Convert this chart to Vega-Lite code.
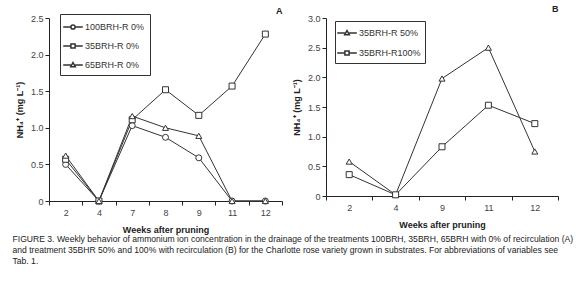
{
  "$schema": "https://vega.github.io/schema/vega-lite/v6.json",
  "background": "white",
  "padding": {"left": 12, "top": 5, "right": 2, "bottom": 2},
  "datasets": {
    "A": [
      {"week": 2, "series": "100BRH-R 0%", "value": 0.50},
      {"week": 4, "series": "100BRH-R 0%", "value": 0.0},
      {"week": 7, "series": "100BRH-R 0%", "value": 1.03},
      {"week": 8, "series": "100BRH-R 0%", "value": 0.87},
      {"week": 9, "series": "100BRH-R 0%", "value": 0.59},
      {"week": 11, "series": "100BRH-R 0%", "value": 0.0},
      {"week": 12, "series": "100BRH-R 0%", "value": 0.0},
      {"week": 2, "series": "35BRH-R 0%", "value": 0.57},
      {"week": 4, "series": "35BRH-R 0%", "value": 0.0},
      {"week": 7, "series": "35BRH-R 0%", "value": 1.11},
      {"week": 8, "series": "35BRH-R 0%", "value": 1.52},
      {"week": 9, "series": "35BRH-R 0%", "value": 1.17},
      {"week": 11, "series": "35BRH-R 0%", "value": 1.57},
      {"week": 12, "series": "35BRH-R 0%", "value": 2.28},
      {"week": 2, "series": "65BRH-R 0%", "value": 0.62},
      {"week": 4, "series": "65BRH-R 0%", "value": 0.0},
      {"week": 7, "series": "65BRH-R 0%", "value": 1.16},
      {"week": 8, "series": "65BRH-R 0%", "value": 1.0},
      {"week": 9, "series": "65BRH-R 0%", "value": 0.89},
      {"week": 11, "series": "65BRH-R 0%", "value": 0.0},
      {"week": 12, "series": "65BRH-R 0%", "value": 0.0}
    ],
    "B": [
      {"week": 2, "series": "35BRH-R 50%", "value": 0.58},
      {"week": 4, "series": "35BRH-R 50%", "value": 0.02},
      {"week": 9, "series": "35BRH-R 50%", "value": 1.98},
      {"week": 11, "series": "35BRH-R 50%", "value": 2.50},
      {"week": 12, "series": "35BRH-R 50%", "value": 0.75},
      {"week": 2, "series": "35BRH-R100%", "value": 0.36},
      {"week": 4, "series": "35BRH-R100%", "value": 0.02},
      {"week": 9, "series": "35BRH-R100%", "value": 0.83},
      {"week": 11, "series": "35BRH-R100%", "value": 1.53},
      {"week": 12, "series": "35BRH-R100%", "value": 1.22}
    ]
  },
  "title": {
    "text": [
      "FIGURE 3. Weekly behavior of ammonium ion concentration in the drainage of the treatments 100BRH, 35BRH, 65BRH with 0% of recirculation (A)",
      "and treatment 35BHR 50% and 100% with recirculation (B) for the Charlotte rose variety grown in substrates. For abbreviations of variables see",
      "Tab. 1."
    ],
    "orient": "bottom",
    "anchor": "start",
    "frame": "bounds",
    "font": "Liberation Sans, sans-serif",
    "fontSize": 8.6,
    "fontWeight": "normal",
    "color": "#222",
    "lineHeight": 11,
    "offset": 1,
    "dx": -3
  },
  "spacing": 9,
  "hconcat": [
    {
      "width": 233,
      "height": 183,
      "title": {"text": "A", "anchor": "end", "fontSize": 9, "fontWeight": "bold", "offset": 1, "dy": 3, "font": "Liberation Sans, sans-serif", "color": "#222"},
      "data": {"name": "A"},
      "encoding": {
        "x": {"field": "week", "type": "ordinal", "bandPosition": 0.5,
              "scale": {"type": "band", "paddingInner": 0, "paddingOuter": 0},
              "axis": {"title": "Weeks after pruning", "labelAngle": 0, "tickBand": "extent"}},
        "y": {"field": "value", "type": "quantitative",
              "scale": {"domain": [0, 2.5], "nice": false},
              "axis": {"title": "NH₄⁺ (mg L⁻¹)", "values": [0, 0.5, 1, 1.5, 2, 2.5],
                       "labelExpr": "datum.value == 0 ? '0' : format(datum.value, '.1f')"}}
      },
      "layer": [
        {"mark": {"type": "line", "color": "#333", "strokeWidth": 1},
         "encoding": {"detail": {"field": "series"}}},
        {"mark": {"type": "point", "filled": true, "fill": "white", "stroke": "#333", "strokeWidth": 1, "opacity": 1, "size": 36},
         "encoding": {"shape": {"field": "series", "legend": null,
           "scale": {"domain": ["100BRH-R 0%", "35BRH-R 0%", "65BRH-R 0%"], "range": ["circle", "square", "triangle-up"]}}}},
        {"mark": {"type": "point", "filled": false, "fill": "white", "stroke": "#333", "strokeWidth": 1, "opacity": 0},
         "encoding": {"shape": {"field": "series",
           "scale": {"domain": ["100BRH-R 0%", "35BRH-R 0%", "65BRH-R 0%"],
                     "range": ["M-1.4,0H-0.3M0.3,0H1.4M-0.3,0A0.3,0.3,0,1,0,0.3,0A0.3,0.3,0,1,0,-0.3,0Z",
                               "M-1.4,0H-0.3M0.3,0H1.4M-0.3,-0.3H0.3V0.3H-0.3Z",
                               "M-1.4,0H-0.3M0.3,0H1.4M0,-0.35L0.33,0.25L-0.33,0.25Z"]},
           "legend": {"title": null, "orient": "none", "legendX": 11, "legendY": -4,
                      "symbolSize": 196, "rowPadding": 5, "padding": 5, "labelOffset": 4,
                      "strokeColor": "#333", "fillColor": "white",
                      "encode": {"symbols": {"update": {"opacity": {"value": 1}, "strokeWidth": {"value": 1}}}}}}}}
      ],
      "resolve": {"scale": {"shape": "independent"}, "legend": {"shape": "independent"}}
    },
    {
      "width": 232,
      "height": 178,
      "title": {"text": "B", "anchor": "end", "fontSize": 9, "fontWeight": "bold", "offset": 7, "dy": 7, "font": "Liberation Sans, sans-serif", "color": "#222"},
      "data": {"name": "B"},
      "encoding": {
        "x": {"field": "week", "type": "ordinal", "bandPosition": 0.5,
              "scale": {"type": "band", "paddingInner": 0, "paddingOuter": 0},
              "axis": {"title": "Weeks after pruning", "labelAngle": 0, "tickBand": "extent"}},
        "y": {"field": "value", "type": "quantitative",
              "scale": {"domain": [0, 3], "nice": false},
              "axis": {"title": "NH₄⁺ (mg L⁻¹)", "values": [0, 0.5, 1, 1.5, 2, 2.5, 3],
                       "labelExpr": "datum.value == 0 ? '0' : format(datum.value, '.1f')"}}
      },
      "layer": [
        {"mark": {"type": "line", "color": "#333", "strokeWidth": 1},
         "encoding": {"detail": {"field": "series"}}},
        {"mark": {"type": "point", "filled": true, "fill": "white", "stroke": "#333", "strokeWidth": 1, "opacity": 1, "size": 36},
         "encoding": {"shape": {"field": "series", "legend": null,
           "scale": {"domain": ["35BRH-R 50%", "35BRH-R100%"], "range": ["triangle-up", "square"]}}}},
        {"mark": {"type": "point", "filled": false, "fill": "white", "stroke": "#333", "strokeWidth": 1, "opacity": 0},
         "encoding": {"shape": {"field": "series",
           "scale": {"domain": ["35BRH-R 50%", "35BRH-R100%"],
                     "range": ["M-1.4,0H-0.3M0.3,0H1.4M0,-0.35L0.33,0.25L-0.33,0.25Z",
                               "M-1.4,0H-0.3M0.3,0H1.4M-0.3,-0.3H0.3V0.3H-0.3Z"]},
           "legend": {"title": null, "orient": "none", "legendX": 9, "legendY": 3,
                      "symbolSize": 196, "rowPadding": 7, "padding": 4, "labelOffset": 4,
                      "strokeColor": "#333", "fillColor": "white",
                      "encode": {"symbols": {"update": {"opacity": {"value": 1}, "strokeWidth": {"value": 1}}}}}}}}
      ],
      "resolve": {"scale": {"shape": "independent"}, "legend": {"shape": "independent"}}
    }
  ],
  "config": {
    "view": {"stroke": null},
    "axis": {
      "grid": false,
      "domainColor": "#222",
      "tickColor": "#222",
      "tickSize": 4,
      "labelFont": "Liberation Sans, sans-serif",
      "labelFontSize": 9,
      "labelColor": "#444",
      "titleFont": "Liberation Sans, sans-serif",
      "titleFontSize": 9,
      "titleFontWeight": "bold",
      "titleColor": "#222"
    },
    "axisX": {"labelPadding": 3, "titlePadding": 8},
    "axisY": {"labelPadding": 2, "titlePadding": 6},
    "legend": {
      "labelFont": "Liberation Sans, sans-serif",
      "labelFontSize": 9,
      "labelColor": "#333"
    }
  }
}
